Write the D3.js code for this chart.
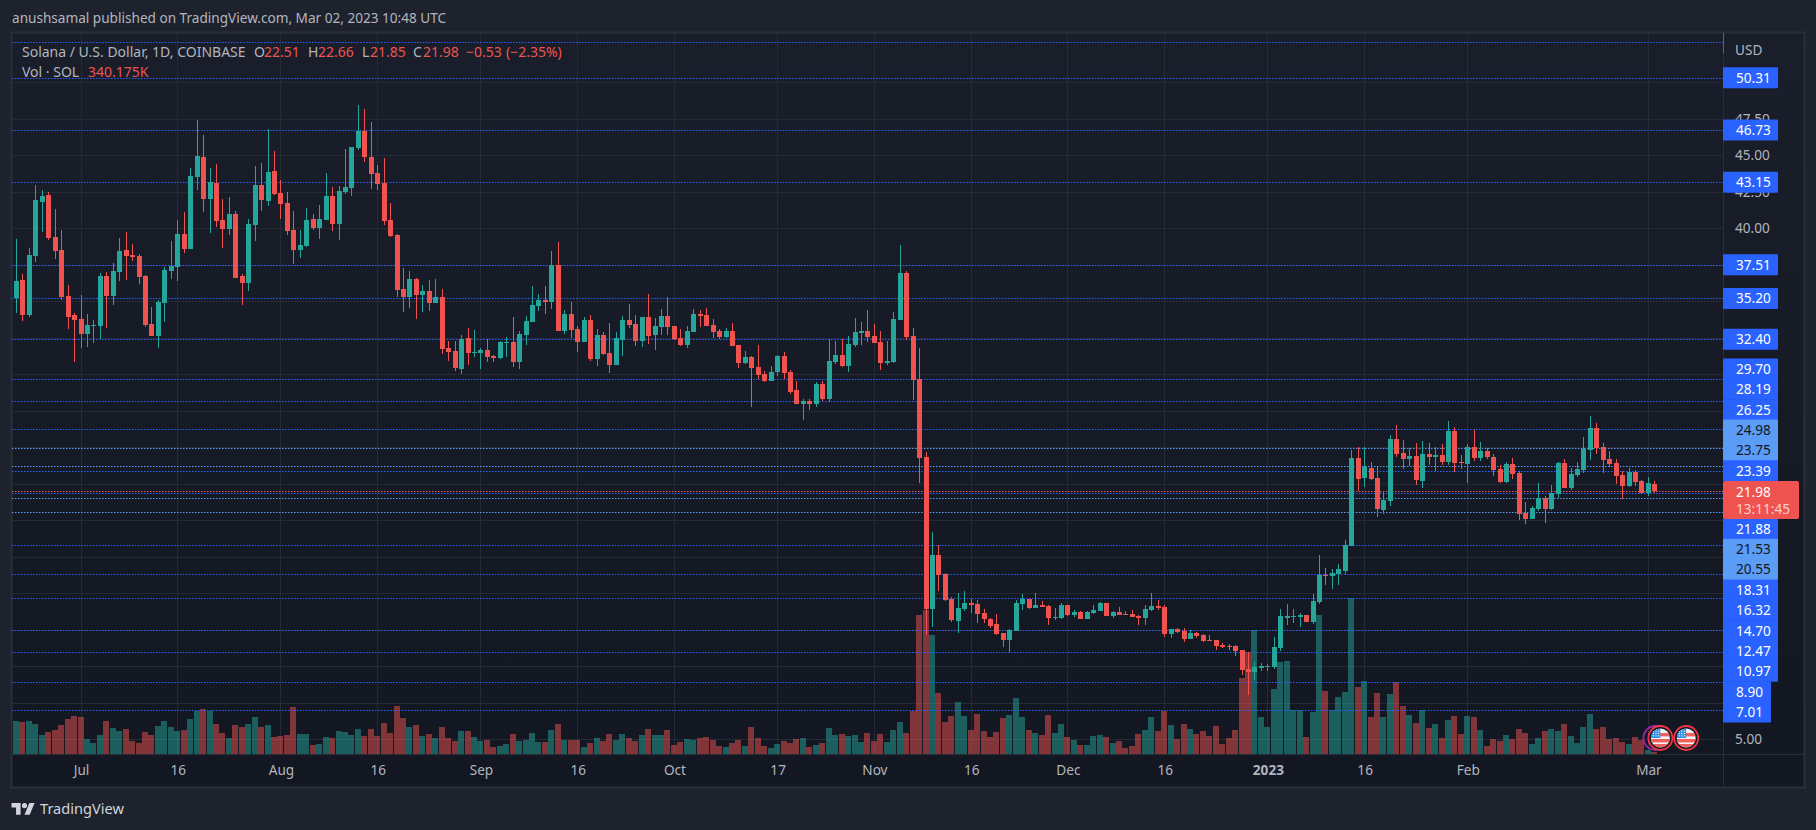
<!DOCTYPE html>
<html>
<head>
<meta charset="utf-8">
<title>Solana / U.S. Dollar</title>
<script src="https://cdn.jsdelivr.net/npm/d3@7"></script>
<style>
  html, body { margin: 0; padding: 0; background: #1e222d; overflow: hidden; }
  svg { display: block; }
  text { font-family: "Noto Sans", sans-serif; font-size: 13.6px; }
</style>
</head>
<body>
<svg id="chart" width="1816" height="830"></svg>
<script>
// daily candles, first one is 21 Jun 2022
var opens = [
  35.22,36.46,34.06,38.10,41.80,42.28,39.40,38.51,35.36,34.06,
  33.79,32.76,33.31,33.31,36.73,35.36,37.00,38.51,38.17,38.10,
  36.73,33.44,32.62,34.88,37.07,37.35,39.61,38.58,43.51,44.88,
  42.00,43.10,40.57,39.95,40.98,36.73,36.25,40.22,42.96,41.87,
  43.92,42.42,41.73,39.88,38.51,38.79,40.63,40.02,40.57,42.21,
  40.29,42.48,42.76,45.50,46.66,44.88,43.79,43.10,40.57,39.54,
  35.84,35.29,36.53,35.43,35.70,34.88,35.29,31.80,31.59,30.36,
  32.48,31.46,31.46,31.66,31.25,31.12,32.15,32.21,30.84,32.69,
  33.58,34.68,35.09,34.95,37.49,32.97,34.13,33.10,32.21,33.72,
  31.05,32.69,31.46,30.64,32.35,33.72,33.45,32.28,33.93,32.69,
  33.24,34.00,33.31,32.49,32.01,32.90,34.13,34.06,33.38,32.97,
  32.56,32.97,32.01,30.78,31.19,30.50,30.02,29.54,30.16,31.26,
  30.16,28.93,27.97,28.17,27.97,29.34,28.31,30.84,31.32,30.57,
  32.01,32.83,32.97,32.63,32.21,30.78,30.84,33.72,36.94,32.63,
  29.68,24.33,13.92,17.62,16.32,14.61,13.10,13.92,14.33,14.26,
  13.65,13.24,12.90,12.28,11.80,12.42,14.26,14.61,13.99,14.20,
  14.13,13.31,13.31,14.20,13.51,13.72,13.24,13.65,13.79,14.33,
  13.44,13.72,13.58,13.58,13.44,13.31,13.85,14.13,14.06,12.21,
  12.55,12.42,11.87,12.28,12.14,11.80,11.80,11.46,11.39,11.39,
  11.11,9.81,9.61,9.88,9.95,9.95,11.25,13.31,13.38,13.38,
  13.51,13.04,14.41,16.25,16.19,16.32,16.53,18.24,24.27,22.90,
  23.58,22.90,20.71,21.32,25.57,24.61,24.20,24.40,22.69,24.54,
  24.34,24.47,23.99,26.12,23.99,23.86,25.02,24.27,24.75,24.34,
  23.51,22.62,23.86,23.24,20.50,20.09,20.77,21.53,20.77,21.80,
  23.93,22.21,23.10,23.45,24.82,26.32,25.02,24.20,23.93,23.10,
  22.35,23.31,22.69,21.87,22.51
];
var highs = [
  39.26,36.87,38.65,42.96,42.62,42.48,41.32,39.88,36.11,34.20,
  35.43,34.13,33.72,36.94,37.00,37.62,39.33,39.74,38.92,38.24,
  36.80,34.61,35.09,37.35,39.13,40.57,41.11,44.13,47.42,46.39,
  44.13,44.40,42.00,42.14,41.18,36.87,40.63,44.26,44.47,46.80,
  45.29,43.31,42.48,41.18,39.88,41.39,40.98,41.59,43.79,42.83,
  42.89,45.43,45.57,48.44,48.17,47.28,44.33,44.81,41.73,39.61,
  37.28,37.07,36.59,36.11,36.46,36.53,35.84,32.28,32.28,32.69,
  33.17,33.03,31.80,32.42,31.32,32.25,32.56,33.93,32.97,34.00,
  36.05,35.50,36.05,38.45,39.06,34.41,34.95,33.31,33.93,34.06,
  33.10,32.90,33.52,32.90,34.00,34.82,34.06,33.93,35.50,33.86,
  34.47,35.30,33.31,33.10,33.31,34.47,34.41,34.54,33.79,33.10,
  33.17,33.52,32.01,31.60,31.26,32.01,30.23,30.57,31.32,31.53,
  30.30,29.54,28.31,28.31,29.47,29.54,32.42,32.28,32.42,32.63,
  33.86,33.58,34.41,33.45,32.97,32.28,34.27,38.86,37.08,33.17,
  31.80,24.68,19.20,18.31,16.39,14.74,15.02,15.16,14.61,14.54,
  13.92,13.31,13.58,12.28,12.55,14.54,14.95,14.61,15.02,14.47,
  14.20,13.99,14.33,14.20,13.85,13.79,13.79,14.20,14.40,14.33,
  13.79,14.06,13.79,13.85,13.51,14.20,15.02,14.54,14.20,12.55,
  12.62,12.62,12.48,12.35,12.21,12.14,11.80,11.59,11.53,11.46,
  11.11,10.98,10.29,10.22,10.16,12.00,13.93,14.27,13.93,13.65,
  13.51,14.95,17.62,16.73,16.67,17.01,18.65,24.82,25.02,25.02,
  23.99,23.65,22.01,25.84,26.53,25.50,24.95,25.29,25.43,25.29,
  25.02,25.23,26.80,26.39,24.47,25.23,26.19,25.36,24.95,24.54,
  23.79,23.99,24.27,23.38,21.25,20.98,22.56,21.66,22.42,23.99,
  24.20,23.58,23.99,25.71,27.14,26.66,25.29,24.75,24.20,23.38,
  23.58,23.45,22.76,22.97,22.66
];
var lows = [
  34.20,33.65,33.92,37.69,39.74,39.20,37.90,35.09,33.10,30.84,
  31.80,31.87,32.14,32.42,33.17,34.74,36.39,36.46,37.76,36.18,
  33.24,32.62,31.80,33.58,36.53,36.39,38.31,38.58,42.62,41.11,
  39.68,40.09,38.65,39.54,36.59,34.74,35.70,39.13,41.18,41.53,
  42.28,40.63,39.54,37.55,37.96,38.72,39.88,39.27,40.57,39.81,
  39.20,42.35,42.21,45.36,44.54,42.69,42.62,40.22,39.40,35.29,
  34.27,34.54,33.79,34.27,34.33,34.88,31.39,30.91,30.22,30.02,
  30.64,31.18,30.36,30.84,30.84,31.05,31.19,30.50,30.37,32.01,
  33.58,34.34,34.13,34.47,32.97,32.76,32.49,31.53,32.21,30.91,
  30.57,31.32,30.09,30.64,31.26,33.17,31.94,31.87,32.08,31.67,
  32.69,32.69,32.35,31.94,31.80,32.90,33.24,33.31,32.49,32.42,
  32.49,31.94,30.43,30.71,27.76,29.68,29.47,29.54,29.89,29.68,
  28.65,27.97,26.87,27.56,27.76,28.17,28.11,30.71,30.50,30.16,
  31.87,32.01,32.21,32.15,30.30,30.64,30.78,33.72,32.35,28.24,
  22.56,12.14,12.69,15.16,14.47,13.03,12.28,13.79,13.65,12.96,
  12.96,12.62,12.14,11.32,10.98,12.42,13.85,13.92,13.99,14.06,
  12.83,13.17,13.24,13.44,13.37,13.24,13.24,13.58,13.79,13.44,
  13.31,13.51,13.51,13.37,12.83,12.83,13.79,13.85,12.00,11.94,
  12.28,11.66,11.87,11.94,11.66,11.73,11.11,11.25,11.11,10.70,
  9.40,8.03,9.06,9.68,9.68,9.81,11.05,12.83,12.97,12.69,
  13.04,12.90,14.27,15.57,15.30,15.57,16.32,18.24,22.01,22.28,
  22.76,20.23,20.43,20.98,24.34,23.51,23.72,22.42,22.21,23.79,
  23.38,23.79,23.79,23.31,23.51,22.56,24.06,24.06,24.20,23.03,
  22.56,22.56,22.83,20.02,19.75,20.09,20.64,19.82,20.71,21.53,
  22.21,22.08,22.97,23.24,24.13,24.54,23.24,23.65,22.49,21.46,
  22.28,22.35,21.80,21.66,21.85
];
var closes = [
  36.39,34.06,38.17,41.94,42.21,39.33,38.44,35.29,33.92,33.72,
  32.76,33.37,33.37,36.73,35.36,37.07,38.44,38.10,38.03,36.66,
  33.37,32.62,34.95,37.14,37.42,39.61,38.58,43.58,44.95,42.00,
  43.17,40.50,39.95,40.98,36.59,36.25,40.29,42.96,41.94,43.85,
  42.35,41.66,39.81,38.51,38.85,40.57,40.02,40.63,42.21,40.29,
  42.55,42.83,45.57,46.66,44.88,43.72,43.03,40.50,39.47,35.77,
  35.29,36.53,35.43,35.70,34.88,35.29,31.73,31.53,30.43,32.42,
  31.46,31.53,31.66,31.18,31.11,32.21,32.21,30.84,32.76,33.65,
  34.75,35.09,34.95,37.49,32.97,34.13,33.04,32.21,33.72,31.05,
  32.69,31.39,30.64,32.49,33.72,33.38,32.28,33.93,32.63,33.31,
  34.00,33.24,32.42,32.01,32.97,34.13,34.00,33.31,32.90,32.56,
  32.97,31.94,30.78,31.19,30.43,29.95,29.54,30.16,31.26,30.09,
  28.79,27.97,28.20,27.97,29.34,28.31,30.91,31.32,30.57,32.08,
  32.90,32.97,32.56,32.15,30.78,30.91,33.79,36.94,32.56,29.61,
  24.27,13.92,17.62,16.25,14.54,13.17,13.99,14.33,14.20,13.58,
  13.24,12.76,12.21,11.80,12.48,14.33,14.61,13.99,14.20,14.06,
  13.31,13.37,14.20,13.51,13.72,13.24,13.72,13.85,14.33,13.44,
  13.72,13.51,13.51,13.37,13.31,13.92,14.13,13.99,12.21,12.55,
  12.35,11.87,12.28,12.07,11.73,11.73,11.39,11.32,11.32,11.05,
  9.74,9.61,9.95,10.02,10.02,11.32,13.45,13.45,13.45,13.51,
  13.04,14.47,16.25,16.19,16.39,16.67,18.31,24.27,22.83,23.65,
  22.83,20.77,21.39,25.57,24.54,24.20,24.40,22.76,24.54,24.34,
  24.47,23.99,26.12,23.93,23.93,25.02,24.27,24.75,24.34,23.45,
  22.62,23.86,23.17,20.43,20.09,20.84,21.53,20.77,21.87,23.93,
  22.21,23.17,23.51,24.88,26.32,24.95,24.13,23.86,23.03,22.35,
  23.31,22.62,21.87,22.56,21.98
];
// volume in millions of SOL (estimated, last one is the 340.175K of the legend)
var volumes = [
  5.61,5.44,5.61,5.10,3.23,3.74,4.08,4.93,5.95,6.46,
  6.29,2.55,1.87,3.23,5.61,4.42,3.91,4.25,2.21,1.87,
  3.74,3.23,4.76,5.61,4.59,3.91,4.08,5.95,7.31,7.65,
  7.31,5.10,3.57,2.72,4.93,4.59,5.10,6.29,4.59,4.93,
  2.89,3.06,3.23,7.99,3.40,3.40,1.53,1.70,2.89,2.72,
  3.91,3.74,3.23,4.25,3.06,4.25,3.06,5.27,3.57,8.16,
  6.12,4.59,4.93,3.06,3.40,2.72,4.59,2.72,2.21,3.91,
  3.91,2.89,2.21,2.38,1.19,1.36,1.70,3.40,2.21,2.38,
  3.57,2.04,2.04,4.08,5.10,2.38,2.38,2.38,1.19,1.87,
  2.72,2.21,3.40,2.38,3.40,2.72,2.21,3.23,4.25,3.23,
  3.23,4.08,1.53,2.04,2.55,2.38,2.72,2.89,2.38,1.36,
  1.19,1.87,2.38,1.36,4.59,2.72,1.36,1.02,1.70,2.21,
  1.87,2.55,2.72,1.19,1.53,1.87,4.42,3.23,3.40,3.06,
  3.23,2.04,3.57,2.21,3.40,2.04,4.08,5.44,3.57,7.31,
  23.64,24.49,20.24,10.38,5.44,6.46,8.85,6.46,4.08,6.80,
  3.91,2.89,3.74,6.12,6.63,9.53,6.29,4.08,3.57,3.23,
  6.63,3.57,5.10,2.89,2.38,1.53,1.53,3.06,3.23,2.89,
  1.87,2.21,1.02,1.36,3.40,4.08,6.29,3.91,7.31,4.93,
  2.55,5.10,4.25,3.40,3.91,3.06,4.76,1.70,2.72,4.08,
  12.93,17.35,21.09,6.29,4.59,11.06,15.65,15.82,7.48,7.48,
  2.89,7.14,23.64,10.72,7.48,9.70,10.55,26.54,11.40,12.42,
  6.29,10.38,6.29,10.21,12.25,8.16,6.63,5.27,7.48,4.42,
  5.10,2.72,5.78,6.46,3.40,6.46,6.29,4.08,1.36,2.55,
  2.21,3.23,2.55,4.25,3.57,1.70,2.72,3.91,4.25,3.91,
  5.10,3.06,1.87,4.59,6.80,4.25,4.59,2.55,2.72,2.04,
  1.70,2.89,2.38,0.68,0.34
];

// the dotted levels somebody drew, light ones have a lighter label
var levels = [50.31,46.73,43.15,37.51,35.20,32.40,29.70,28.19,26.25,24.98,23.75,23.39,21.88,21.53,20.55,18.31,16.32,14.70,12.47,10.97,8.90,7.01];
var lightLevels = [24.98,23.75,21.53,20.55];
var hiddenLevel = 52.78; // its label is cut off at the top

var priceTicks = [5,7.5,10,12.5,15,17.5,20,22.5,25,27.5,30,32.5,35,37.5,40,42.5,45,47.5,50];
var priceTickLabels = [5,40,42.5,45,47.5]; // the others are covered by level labels
var timeTicks = ["2022-07-01","2022-07-16","2022-08-01","2022-08-16","2022-09-01","2022-09-16","2022-10-01","2022-10-17","2022-11-01","2022-11-16","2022-12-01","2022-12-16","2023-01-01","2023-01-16","2023-02-01","2023-03-01"];
var timeLabels = ["Jul","16","Aug","16","Sep","16","Oct","17","Nov","16","Dec","16","2023","16","Feb","Mar"];

var title = "anushsamal published on TradingView.com, Mar 02, 2023 10:48 UTC";
var countdown = "13:11:45";
var eventDays = [254.85, 258.85];

var svg = d3.select("#chart");
var upColor = "#26a69a", downColor = "#ef5350", blue = "#2962ff", lightBlue = "#5b9cf6", gridColor = "#262a35", textColor = "#b2b5be";

var left = 12, top_ = 33, axisX = 1723, right = 1804, bottom = 754, frameBottom = 787;

var firstDay = new Date(Date.UTC(2022, 5, 21));
var x = d3.scaleUtc()
  .domain([firstDay, new Date(Date.UTC(2023, 2, 2))])
  .range([16.5, 1654.9]);
var y = d3.scaleLinear().domain([5, 50]).range([739.3, 82.3]);
var yVol = d3.scaleLinear().domain([0, 26.54]).range([bottom, 598]);

function dayOf(i) { return d3.utcDay.offset(firstDay, i); }
var parseDay = d3.utcParse("%Y-%m-%d");
var tickDates = timeTicks.map(parseDay);

var defs = svg.append("defs");
var grad = defs.append("linearGradient").attr("id", "bg").attr("x1", 0).attr("y1", 0).attr("x2", 0).attr("y2", 1);
grad.append("stop").attr("offset", 0).attr("stop-color", "#1a1e2a");
grad.append("stop").attr("offset", 1).attr("stop-color", "#131722");
defs.append("clipPath").attr("id", "plot").append("rect")
  .attr("x", left).attr("y", top_).attr("width", axisX - left).attr("height", bottom - top_);

// frame and background
svg.append("rect").attr("x", left).attr("y", top_).attr("width", right - left).attr("height", bottom - top_).attr("fill", "url(#bg)");
svg.append("rect").attr("x", left).attr("y", bottom).attr("width", right - left).attr("height", frameBottom - bottom).attr("fill", "#131722");
svg.append("rect").attr("x", left - 0.5).attr("y", top_ - 0.5).attr("width", right - left + 1).attr("height", frameBottom - top_ + 1)
  .attr("fill", "none").attr("stroke", "#2a2e39").attr("stroke-width", 2);

var plot = svg.append("g").attr("clip-path", "url(#plot)");

// grid
plot.selectAll(".hgrid").data(priceTicks).enter().append("line")
  .attr("x1", left).attr("x2", axisX)
  .attr("y1", function(d) { return Math.round(y(d)) + 0.5; })
  .attr("y2", function(d) { return Math.round(y(d)) + 0.5; })
  .attr("stroke", gridColor);
plot.selectAll(".vgrid").data(tickDates).enter().append("line")
  .attr("y1", top_).attr("y2", bottom)
  .attr("x1", function(d) { return Math.floor(x(d)) + 0.5; })
  .attr("x2", function(d) { return Math.floor(x(d)) + 0.5; })
  .attr("stroke", gridColor);

// volume
var candles = d3.range(closes.length).map(function(i) {
  return { date: dayOf(i), o: opens[i], h: highs[i], l: lows[i], c: closes[i], v: volumes[i] };
});
plot.append("g").attr("shape-rendering", "crispEdges").selectAll("rect").data(candles).enter().append("rect")
  .attr("x", function(d) { return Math.floor(x(d.date)) - 3; })
  .attr("width", 6)
  .attr("y", function(d) { return Math.round(yVol(d.v)); })
  .attr("height", function(d) { return bottom - Math.round(yVol(d.v)); })
  .attr("fill", function(d) { return d.c >= d.o ? upColor : downColor; })
  .attr("fill-opacity", 0.5);

// dotted levels
function dotted(price, color) {
  var py = Math.round(y(price)) + 0.5;
  plot.append("line").attr("x1", left).attr("x2", axisX).attr("y1", py).attr("y2", py)
    .attr("stroke", color).attr("stroke-dasharray", "1.5 1.5");
}
dotted(hiddenLevel, blue);
levels.forEach(function(d) { dotted(d, lightLevels.indexOf(d) >= 0 ? lightBlue : blue); });
var lastClose = closes[closes.length - 1];
dotted(lastClose, downColor);

// candles
var cg = plot.append("g").attr("shape-rendering", "crispEdges");
cg.selectAll(".wick").data(candles).enter().append("rect")
  .attr("x", function(d) { return Math.floor(x(d.date)); })
  .attr("width", 1)
  .attr("y", function(d) { return Math.round(y(d.h)); })
  .attr("height", function(d) { return Math.max(1, Math.round(y(d.l)) - Math.round(y(d.h))); })
  .attr("fill", function(d) { return d.c >= d.o ? upColor : downColor; });
cg.selectAll(".body").data(candles).enter().append("rect")
  .attr("x", function(d) { return Math.floor(x(d.date)) - 2; })
  .attr("width", 5)
  .attr("y", function(d) { return Math.round(y(Math.max(d.o, d.c))); })
  .attr("height", function(d) { return Math.max(1, Math.round(y(Math.min(d.o, d.c))) - Math.round(y(Math.max(d.o, d.c)))); })
  .attr("fill", function(d) { return d.c >= d.o ? upColor : downColor; });

// event flags
function flag(cx, cy) {
  var id = "fl" + Math.round(cx);
  defs.append("clipPath").attr("id", id).append("circle").attr("cx", cx).attr("cy", cy).attr("r", 9.5);
  var g = svg.append("g");
  g.append("circle").attr("cx", cx).attr("cy", cy).attr("r", 12).attr("fill", "#131722").attr("stroke", "#f23645").attr("stroke-width", 1.8);
  var f = g.append("g").attr("clip-path", "url(#" + id + ")");
  f.append("rect").attr("x", cx - 10).attr("y", cy - 10).attr("width", 20).attr("height", 20).attr("fill", "#f5f5f5");
  [-4, 2, 7].forEach(function(d) {
    f.append("rect").attr("x", cx - 10).attr("y", cy + d - 1).attr("width", 20).attr("height", 3.4).attr("fill", "#f0625f");
  });
  f.append("rect").attr("x", cx - 10).attr("y", cy - 10).attr("width", 10).attr("height", 10).attr("fill", "#2f8fe8");
  d3.range(3).forEach(function(r) {
    d3.range(3).forEach(function(c) {
      f.append("rect").attr("x", cx - 7.5 + c * 2.6).attr("y", cy - 7.5 + r * 2.4).attr("width", 1.1).attr("height", 1.1).attr("fill", "#fff");
    });
  });
}
var dayX = d3.scaleLinear().domain([0, closes.length - 1]).range(x.range());
svg.append("circle").attr("cx", dayX(eventDays[0]) - 5).attr("cy", 738).attr("r", 12).attr("fill", "none").attr("stroke", "#9c27b0").attr("stroke-width", 1.8);
eventDays.forEach(function(d) { flag(dayX(d), 738); });

// price axis
svg.append("line").attr("x1", axisX + 0.5).attr("x2", axisX + 0.5).attr("y1", top_).attr("y2", frameBottom).attr("stroke", "#2a2e39");
svg.append("line").attr("x1", left).attr("x2", right).attr("y1", bottom + 0.5).attr("y2", bottom + 0.5).attr("stroke", "#2a2e39");
svg.append("line").attr("x1", axisX + 0.5).attr("x2", axisX + 0.5).attr("y1", top_).attr("y2", 53).attr("stroke", blue);

var priceAxis = d3.axisRight(y).tickValues(priceTickLabels).tickFormat(d3.format(".2f")).tickSize(0).tickPadding(12);
var pa = svg.append("g").attr("transform", "translate(" + axisX + ",0)").call(priceAxis);
pa.select(".domain").remove();
pa.selectAll("text").attr("fill", textColor).style("font-size", "13.6px");

svg.append("text").attr("x", 1735).attr("y", 50).attr("dy", "0.35em").attr("fill", textColor).text("USD");

// time axis
var timeAxis = d3.axisBottom(x).tickValues(tickDates).tickFormat(function(d, i) { return timeLabels[i]; }).tickSize(0).tickPadding(11);
var ta = svg.append("g").attr("transform", "translate(0," + bottom + ")").call(timeAxis);
ta.select(".domain").remove();
ta.selectAll("text").attr("fill", textColor).style("font-size", "13.6px")
  .style("font-weight", function(d, i) { return timeLabels[i] == "2023" ? "bold" : "normal"; });

// level labels: the upper ones sit on their line, the rest are stacked
var stackFrom = 6, stackY = 369, rowH = 20.35, labelH = 21;
function priceLabel(value, cy) {
  var light = lightLevels.indexOf(value) >= 0;
  var w = value < 10 ? 48 : 55;
  svg.append("rect").attr("x", axisX).attr("y", cy - labelH / 2).attr("width", w).attr("height", labelH).attr("rx", 1)
    .attr("fill", light ? lightBlue : blue);
  svg.append("text").attr("x", 1736).attr("y", cy).attr("dy", "0.36em")
    .attr("fill", light ? "#131722" : "#fff").text(value.toFixed(2));
}
var rowY = stackY;
levels.forEach(function(d, i) {
  if (i < stackFrom) { priceLabel(d, y(d)); return; }
  priceLabel(d, rowY);
  rowY += rowH;
  // the last price box takes the room of two rows and comes after 23.39
  if (d == 23.39) rowY += 37.8;
});
svg.append("rect").attr("x", axisX).attr("y", 481).attr("width", 76).attr("height", 38).attr("rx", 2).attr("fill", downColor);
svg.append("text").attr("x", 1736).attr("y", 492.3).attr("dy", "0.36em").attr("fill", "#fff").text(lastClose.toFixed(2));
svg.append("text").attr("x", 1736).attr("y", 509.3).attr("dy", "0.36em").attr("fill", "#fff").attr("fill-opacity", 0.72).text(countdown);

// header and legend
svg.append("text").attr("x", 12).attr("y", 23).attr("fill", textColor).text(title);

var last = candles[candles.length - 1];
var change = last.c - last.o;
var legendY = 57;
svg.append("text").attr("x", 22).attr("y", legendY).attr("fill", textColor).style("font-size", "14px").text("Solana / U.S. Dollar, 1D, COINBASE");
function ohlc(label, value, lx, vx) {
  svg.append("text").attr("x", lx).attr("y", legendY).attr("fill", textColor).style("font-size", "14px").text(label);
  svg.append("text").attr("x", vx).attr("y", legendY).attr("fill", downColor).style("font-size", "14px").text(value);
}
ohlc("O", last.o.toFixed(2), 254, 264);
ohlc("H", last.h.toFixed(2), 308, 318);
ohlc("L", last.l.toFixed(2), 362, 370);
ohlc("C", last.c.toFixed(2), 413, 423);
svg.append("text").attr("x", 466).attr("y", legendY).attr("fill", downColor).style("font-size", "14px").text("\u2212" + Math.abs(change).toFixed(2));
svg.append("text").attr("x", 506).attr("y", legendY).attr("fill", downColor).style("font-size", "14px").text("(\u2212" + (Math.abs(change) / last.o * 100).toFixed(2) + "%)");
svg.append("text").attr("x", 22).attr("y", 77).attr("fill", textColor).style("font-size", "14px").text("Vol \u00b7 SOL");
svg.append("text").attr("x", 88).attr("y", 77).attr("fill", downColor).style("font-size", "14px").text((last.v * 1000 + 0.175).toFixed(3) + "K");

// logo
var logo = svg.append("g").attr("transform", "translate(11.5,800.4) scale(0.65)").attr("fill", "#d1d4dc");
logo.append("path").attr("d", "M14 22H7V11H0V4h14v18zM28 22h-8l7.5-18h8L28 22z");
logo.append("circle").attr("cx", 20).attr("cy", 8).attr("r", 4);
svg.append("text").attr("x", 40).attr("y", 814).attr("fill", "#d1d4dc").style("font-size", "14.6px").text("TradingView");
</script>
</body>
</html>
